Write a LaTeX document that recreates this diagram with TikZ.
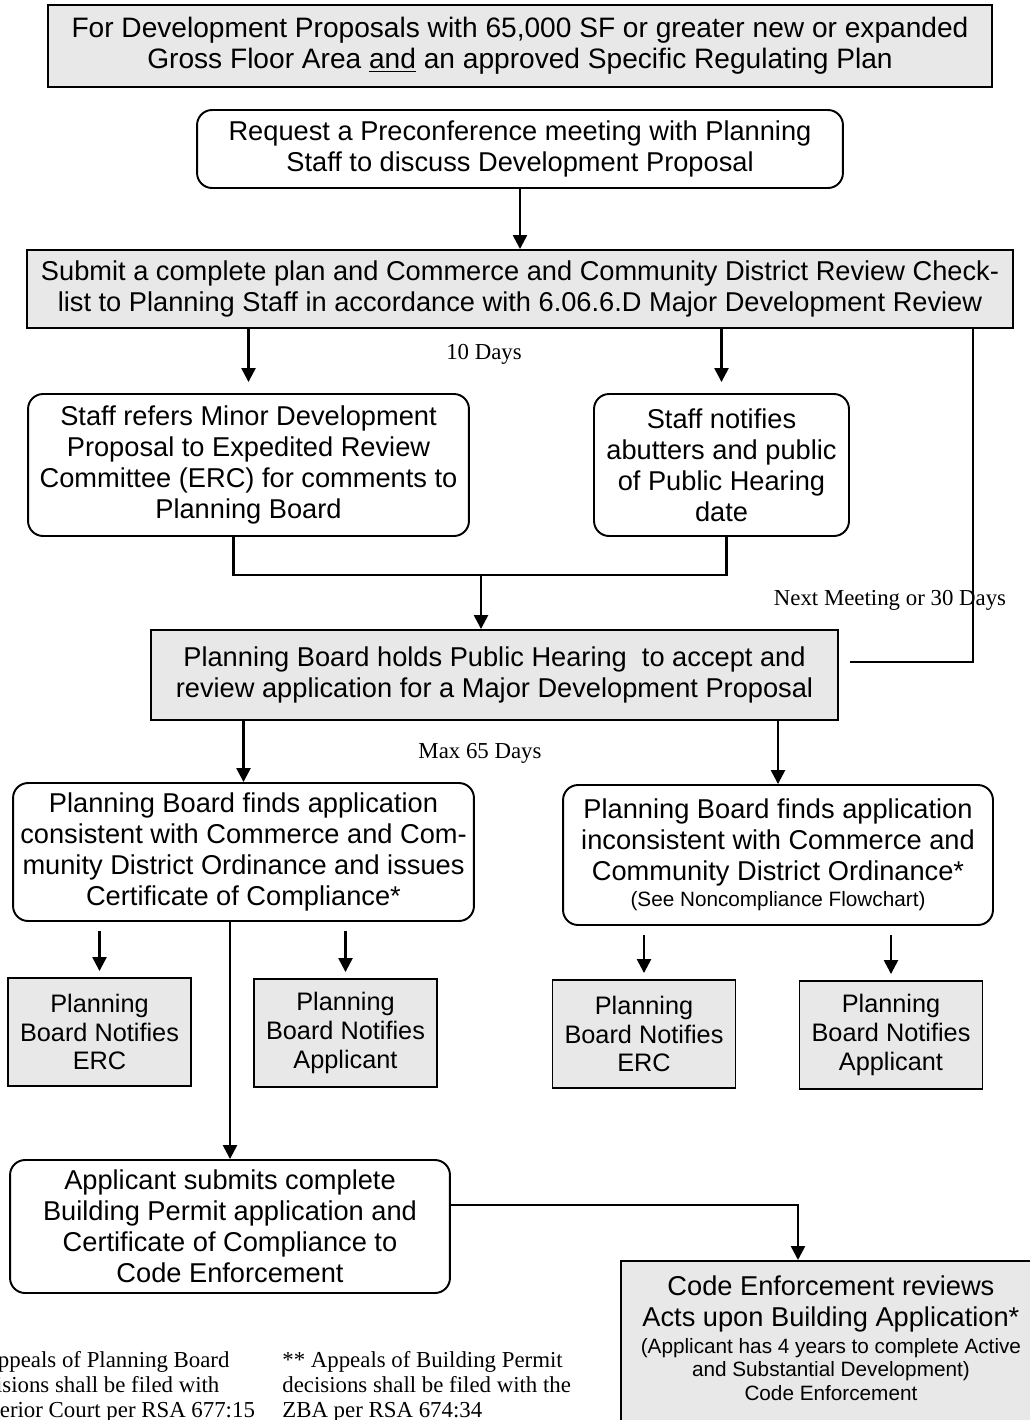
\documentclass[tikz,border=0pt]{standalone}
\usepackage{fontspec}
\setmainfont{Liberation Serif}
\setsansfont{Liberation Sans}
\usetikzlibrary{arrows.meta}
\definecolor{panel}{RGB}{232,232,232}
\newcommand{\headfont}{\sffamily\fontsize{16}{17.6}\selectfont}
\newcommand{\boxfont}{\sffamily\fontsize{15.5}{17.6}\selectfont}
\newcommand{\smallboxfont}{\sffamily\fontsize{14.4}{16.4}\selectfont}
\newcommand{\notefont}{\sffamily\fontsize{11.8}{13.3}\selectfont}
\tikzset{
  stepbox/.style={draw, line width=1.1pt, rounded corners=0.3cm, align=center, font=\boxfont, inner sep=2pt},
  panelbox/.style={draw, fill=panel, line width=1.1pt, align=center, font=\boxfont, inner sep=2pt},
  notifybox/.style={panelbox, font=\smallboxfont, minimum width=3.66cm, minimum height=2.16cm},
  flow/.style={line width=1.4pt, -{Triangle[length=0.28cm, width=0.28cm]}},
  link/.style={line width=1.4pt},
  daynote/.style={font=\fontsize{13}{14.2}\selectfont, inner sep=0pt}
}

\begin{document}
\begin{tikzpicture}[x=0.02cm, y=-0.02cm]
  \useasboundingbox (0,0) rectangle (1029,1420);

  % main chain of steps
  \node[panelbox, font=\headfont, line width=1.6pt, minimum width=18.88cm, minimum height=1.64cm] (intro) at (520,46)
    {For Development Proposals with 65,000 SF or greater new or expanded\\Gross Floor Area \underline{and} an approved Specific Regulating Plan};
  \node[stepbox, minimum width=12.92cm, minimum height=1.56cm] (meet) at (520,149)
    {Request a Preconference meeting with Planning\\Staff to discuss Development Proposal};
  \node[panelbox, minimum width=19.72cm, minimum height=1.56cm] (submit) at (520,289)
    {Submit a complete plan and Commerce and Community District Review Check-\\list to Planning Staff in accordance with 6.06.6.D Major Development Review};
  \node[stepbox, minimum width=8.82cm, minimum height=2.84cm] (refer) at (248.5,465)
    {Staff refers Minor Development\\Proposal to Expedited Review\\Committee (ERC) for comments to\\Planning Board};
  \node[stepbox, minimum width=5.1cm, minimum height=2.84cm] (notify) at (721.5,465)
    {Staff notifies\\abutters and public\\of Public Hearing\\date};
  \node[panelbox, minimum width=13.74cm, minimum height=1.8cm] (hearing) at (494.5,675)
    {Planning Board holds Public Hearing\ \ to accept and\\review application for a Major Development Proposal};
  \node[stepbox, minimum width=9.22cm, minimum height=2.76cm] (consistent) at (243.5,852)
    {Planning Board finds application\\consistent with Commerce and Com-\\munity District Ordinance and issues\\Certificate of Compliance*};
  \node[stepbox, minimum width=8.6cm, minimum height=2.8cm] (inconsistent) at (778,855)
    {Planning Board finds application\\inconsistent with Commerce and\\Community District Ordinance*\\[-3pt]{\notefont (See Noncompliance Flowchart)}};

  % notifications
  \node[notifybox] (ercA) at (99.5,1032) {Planning\\Board Notifies\\ERC};
  \node[notifybox] (applicantA) at (345.5,1033) {Planning\\Board Notifies\\Applicant};
  \node[notifybox] (ercB) at (644,1034) {Planning\\Board Notifies\\ERC};
  \node[notifybox] (applicantB) at (891,1035) {Planning\\Board Notifies\\Applicant};

  \node[stepbox, minimum width=8.8cm, minimum height=2.66cm] (permit) at (230,1226.5)
    {Applicant submits complete\\Building Permit application and\\Certificate of Compliance to\\Code Enforcement};
  \node[panelbox, anchor=north west, inner xsep=0pt, inner ysep=0.3cm] (review) at (620,1260)
    {\parbox[t][3.2cm][t]{8.4cm}{\centering
      Code Enforcement reviews\\Acts upon Building Application*\par
      \vspace{2pt}\notefont (Applicant has 4 years to complete Active\\and Substantial Development)\\Code Enforcement\par}};

  % time limits and footnotes
  \node[daynote] (tendays) at (484,354) {10 Days};
  \node[daynote] (nextmeeting) at (890,600) {Next Meeting or 30 Days};
  \node[daynote] (maxdays) at (480,753) {Max 65 Days};
  \node[daynote, anchor=north west, align=left] (pbappeal) at (-36,1351)
    {* Appeals of Planning Board\\decisions shall be filed with\\Superior Court per RSA 677:15};
  \node[daynote, anchor=north west, align=left] (bpappeal) at (282,1351)
    {** Appeals of Building Permit\\decisions shall be filed with the\\ZBA per RSA 674:34};

  % connectors
  \coordinate (loop) at (973,662);
  \coordinate (merge) at (481,575);
  \coordinate (bend) at (798,1205);

  \draw[flow] (meet) -- (submit);
  \draw[flow, shorten >=0.22cm] (submit.south -| refer) -- (refer);
  \draw[flow, shorten >=0.22cm] (submit.south -| notify) -- (notify);
  \draw[link, shorten >=0.22cm] (submit.south -| loop) -- (loop) -- (hearing.east |- loop);
  \draw[link] ([xshift=-0.3cm]refer.south) |- (merge) -| ([xshift=0.1cm]notify.south);
  \draw[flow] (merge) -- (merge |- hearing.north);
  \draw[flow] (hearing.south -| consistent) -- (consistent);
  \draw[flow] (hearing.south -| inconsistent) -- (inconsistent);
  \foreach \target/\from in {ercA/consistent, applicantA/consistent, ercB/inconsistent, applicantB/inconsistent}
    \draw[flow, shorten <=0.18cm, shorten >=0.12cm] (\from.south -| \target) -- (\target);
  \draw[flow] (consistent.south -| permit) -- (permit);
  \draw[flow] (permit.east |- bend) -- (bend) -- (bend |- review.north);
\end{tikzpicture}
\end{document}
